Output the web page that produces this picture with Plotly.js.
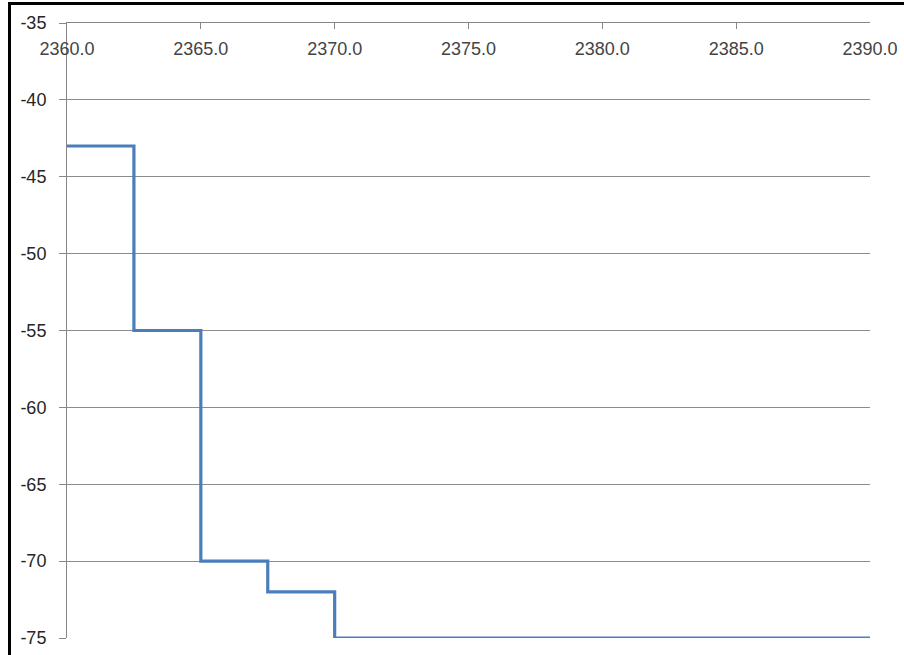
<!DOCTYPE html>
<html>
<head>
<meta charset="utf-8">
<script src="https://cdn.plot.ly/plotly-3.0.1.min.js"></script>
<style>
html,body{margin:0;padding:0;background:#fff;}
#wrap{position:relative;width:904px;height:655px;overflow:hidden;}
#chart{width:904px;height:655px;}
#frame{position:absolute;left:8px;top:2px;width:1000px;height:1000px;border-left:3px solid #000;border-top:3px solid #000;pointer-events:none;}
</style>
</head>
<body>
<div id="wrap"><div id="chart"></div><div id="frame"></div></div>
<script>
const xSteps = [2360, 2362.5, 2365, 2367.5, 2370, 2390];
const yLevels = [-43, -55, -70, -72, -75, -75];
const yTickVals = [-35, -40, -45, -50, -55, -60, -65, -70, -75];
const yTickText = ["-35", "-40", "-45", "-50", "-55", "-60", "-65", "-70", "-75"];

const fontFam = '"Liberation Sans", Arial, sans-serif';
const trace = {
  x: xSteps, y: yLevels, type: 'scatter', mode: 'lines',
  line: {shape: 'hv', color: '#4a7ebb', width: 3.2},
  hoverinfo: 'none'
};
const layout = {
  width: 904, height: 655,
  margin: {l: 67, r: 34, t: 23, b: 17},
  paper_bgcolor: '#fff', plot_bgcolor: '#fff',
  showlegend: false,
  font: {family: fontFam, size: 18, color: '#262626'},
  xaxis: {
    side: 'top', range: [2360, 2390], dtick: 5, tick0: 2360, tickformat: '.1f',
    ticks: 'inside', ticklen: 6, tickcolor: '#868686', tickwidth: 1,
    ticklabelposition: 'inside', ticklabeloverflow: 'allow', ticklabelstandoff: 14,
    showline: true, linecolor: '#868686', linewidth: 1,
    showgrid: false, zeroline: false, fixedrange: true
  },
  yaxis: {
    range: [-75, -35], tickvals: yTickVals, ticktext: yTickText,
    ticks: 'outside', ticklen: 7, tickcolor: '#868686', tickwidth: 1,
    ticklabelstandoff: 9,
    showline: true, linecolor: '#868686', linewidth: 1,
    showgrid: true, gridcolor: '#8c8c8c', gridwidth: 1,
    zeroline: false, fixedrange: true
  }
};
Plotly.newPlot('chart', [trace], layout, {displayModeBar: false, staticPlot: true});
</script>
</body>
</html>
